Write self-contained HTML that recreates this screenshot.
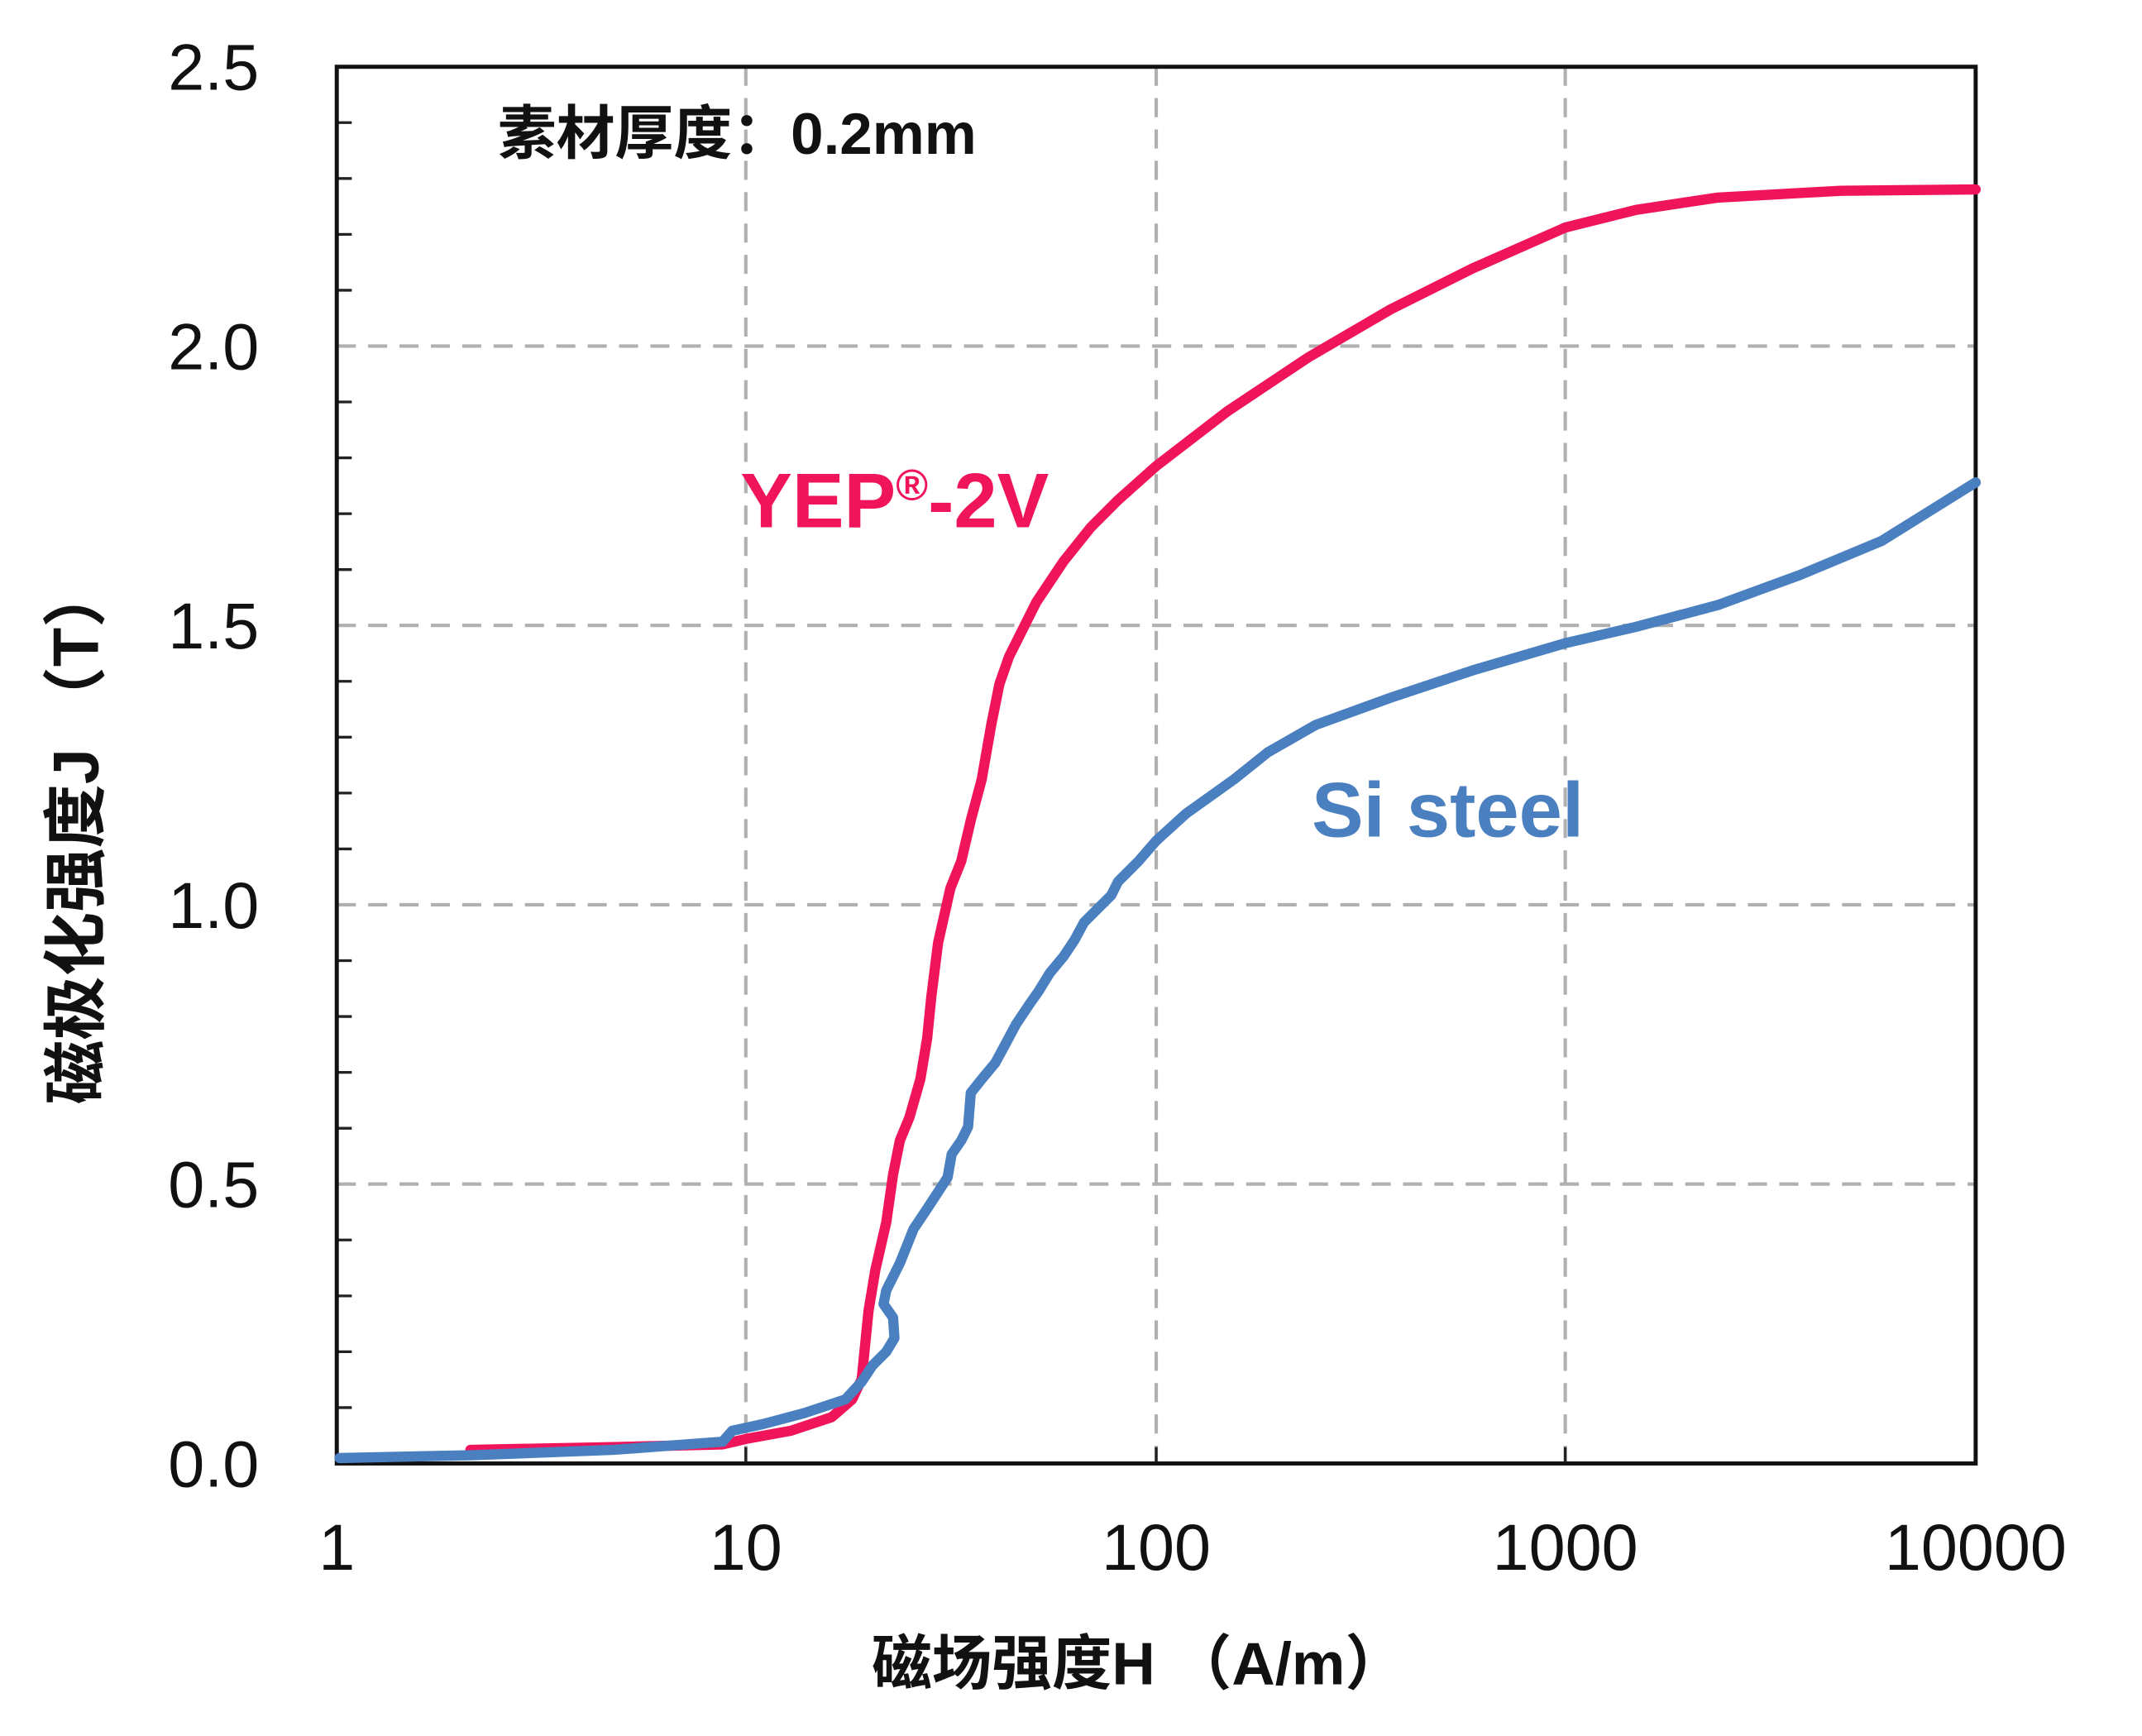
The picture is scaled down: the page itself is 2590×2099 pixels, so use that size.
<!DOCTYPE html>
<html><head><meta charset="utf-8"><style>html,body{margin:0;padding:0;background:#fff}svg{display:block}</style></head>
<body>
<svg width="2590" height="2099" viewBox="0 -2 1571 1274" preserveAspectRatio="none" xmlns="http://www.w3.org/2000/svg">
<g stroke="#b0b0b0" stroke-width="2.5" stroke-dasharray="14,9" fill="none">
<line x1="247" y1="867" x2="1449" y2="867"/><line x1="247" y1="662" x2="1449" y2="662"/>
<line x1="247" y1="457" x2="1449" y2="457"/><line x1="247" y1="252" x2="1449" y2="252"/>
<line x1="547" y1="47" x2="547" y2="1072"/><line x1="848" y1="47" x2="848" y2="1072"/><line x1="1148" y1="47" x2="1148" y2="1072"/>
</g>
<g stroke="#222" stroke-width="2">
<line x1="247" y1="1031" x2="258" y2="1031"/><line x1="247" y1="990" x2="258" y2="990"/><line x1="247" y1="949" x2="258" y2="949"/><line x1="247" y1="908" x2="258" y2="908"/>
<line x1="247" y1="826" x2="258" y2="826"/><line x1="247" y1="785" x2="258" y2="785"/><line x1="247" y1="744" x2="258" y2="744"/><line x1="247" y1="703" x2="258" y2="703"/>
<line x1="247" y1="621" x2="258" y2="621"/><line x1="247" y1="580" x2="258" y2="580"/><line x1="247" y1="539" x2="258" y2="539"/><line x1="247" y1="498" x2="258" y2="498"/>
<line x1="247" y1="416" x2="258" y2="416"/><line x1="247" y1="375" x2="258" y2="375"/><line x1="247" y1="334" x2="258" y2="334"/><line x1="247" y1="293" x2="258" y2="293"/>
<line x1="247" y1="211" x2="258" y2="211"/><line x1="247" y1="170" x2="258" y2="170"/><line x1="247" y1="129" x2="258" y2="129"/><line x1="247" y1="88" x2="258" y2="88"/>
<line x1="547" y1="1072" x2="547" y2="1060"/><line x1="848" y1="1072" x2="848" y2="1060"/><line x1="1148" y1="1072" x2="1148" y2="1060"/>
</g>
<rect x="247" y="47" width="1202" height="1025" fill="none" stroke="#111" stroke-width="3"/>
<polyline fill="none" stroke="#f0155a" stroke-width="7.5" stroke-linejoin="round" stroke-linecap="round" points="345,1062 450,1060 530,1058 547,1054 580,1048 610,1038 625,1025 632,1010 637,960 642,930 650,895 655,860 660,835 667,818 675,790 680,760 683,730 688,690 697,650 705,630 712,600 720,570 727,530 733,500 740,480 760,440 780,410 800,385 820,365 848,340 900,300 960,260 1020,225 1080,195 1148,165 1200,152 1260,143 1350,138 1449,137"/>
<polyline fill="none" stroke="#4a7fc0" stroke-width="7.5" stroke-linejoin="round" stroke-linecap="round" points="249,1068 345,1066 450,1062 530,1056 537,1048 560,1043 590,1035 620,1025 632,1012 640,1000 650,990 656,980 655,965 648,955 650,945 660,925 670,900 680,885 695,862 698,845 705,835 710,825 712,800 720,790 730,778 737,765 745,750 755,735 762,725 770,712 780,700 788,688 795,675 805,665 815,655 820,645 835,630 848,615 870,595 905,570 930,550 965,530 1020,510 1080,490 1148,470 1200,458 1260,442 1320,420 1380,395 1449,352"/>
<g font-family="Liberation Sans, sans-serif" font-size="48" fill="#111" text-anchor="end">
<text x="190" y="1089">0.0</text><text x="190" y="884">0.5</text><text x="190" y="679">1.0</text><text x="190" y="474">1.5</text><text x="190" y="269">2.0</text><text x="190" y="64">2.5</text>
</g>
<g font-family="Liberation Sans, sans-serif" font-size="48" fill="#111" text-anchor="middle">
<text x="247" y="1150">1</text><text x="547" y="1150">10</text><text x="848" y="1150">100</text><text x="1148" y="1150">1000</text><text x="1449" y="1150">10000</text>
</g>
<text x="835" y="1234" text-anchor="middle" font-family="Liberation Sans, 'Noto Sans CJK SC', sans-serif" font-weight="bold" font-size="44" fill="#111">磁场强度H （A/m）</text>
<text transform="translate(72,610) rotate(-90)" text-anchor="middle" font-family="Liberation Sans, 'Noto Sans CJK SC', sans-serif" font-weight="bold" font-size="47" fill="#111">磁极化强度J （T）</text>
<text x="365" y="111" font-family="Liberation Sans, 'Noto Sans CJK SC', sans-serif" font-weight="bold" font-size="43" fill="#111">素材厚度：0.2mm</text>
<text x="543" y="385" font-family="Liberation Sans, sans-serif" font-weight="bold" font-size="57" fill="#f0155a">YEP<tspan font-size="32" dy="-20">®</tspan><tspan dy="20">-2V</tspan></text>
<text x="962" y="612" font-family="Liberation Sans, sans-serif" font-weight="bold" font-size="57" fill="#4a7fc0">Si steel</text>
</svg>
</body></html>
